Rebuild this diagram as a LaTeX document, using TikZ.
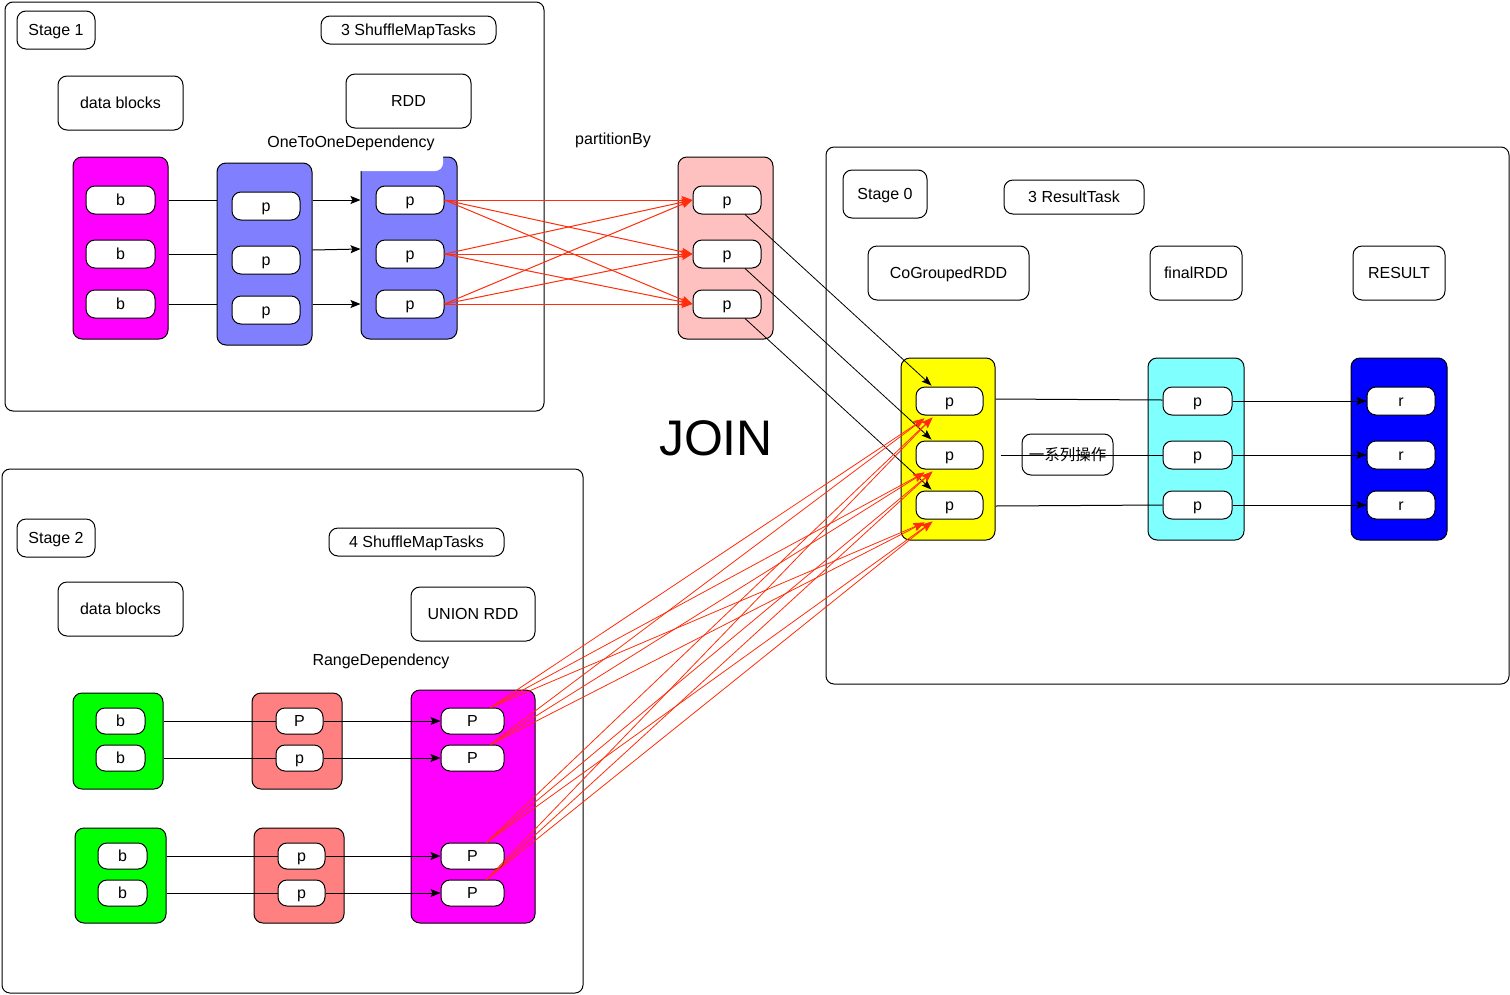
\documentclass[tikz,border=0pt]{standalone}
\usepackage{fontspec}
\setmainfont{Liberation Sans}
\newfontfamily\cjk{Noto Sans CJK SC}
\usetikzlibrary{arrows.meta,calc}
\definecolor{cmag}{RGB}{255,0,255}
\definecolor{cpur}{RGB}{128,128,255}
\definecolor{cpink}{RGB}{255,192,192}
\definecolor{cyel}{RGB}{255,255,0}
\definecolor{ccyan}{RGB}{128,255,255}
\definecolor{cblue}{RGB}{0,0,255}
\definecolor{cgreen}{RGB}{0,255,0}
\definecolor{csalmon}{RGB}{255,128,128}
\definecolor{cred}{RGB}{255,45,10}
\begin{document}
\begin{tikzpicture}[x=1pt,y=-1pt,
  frame/.style={draw, rounded corners=8pt, line width=1pt},
  tx/.style={text height=14.5pt, text depth=3.4pt, font=\fontsize{16}{19}\selectfont},
  lbl/.style={draw, fill=white, rounded corners=9pt, line width=1pt, inner sep=0pt, tx},
  txt/.style={inner sep=0pt, tx},
  col/.style={draw, rounded corners=9pt, line width=1pt, inner sep=0pt},
  pbox/.style={draw, fill=white, rounded corners=9pt, line width=1pt, inner sep=0pt, minimum height=28pt, tx},
  sbox/.style={pbox, minimum height=26pt},
  conn/.style={line width=1pt},
  arr/.style={conn, -{Stealth[length=10pt,width=8pt,inset=2pt]}},
  thinarr/.style={line width=0.8pt, -{Stealth[length=10pt,width=7.5pt,inset=2pt]}},
  redarr/.style={draw=cred, line width=1pt, -{Stealth[length=11pt,width=8pt,inset=2pt]}},
  redarrb/.style={draw=cred, line width=0.8pt, -{Stealth[length=11pt,width=8pt,inset=2pt]}}
]
\useasboundingbox (0,0) rectangle (1510,994);

% ---------- frames ----------
\draw[frame] (5,2) rectangle (544,411);
\draw[frame] (826,147) rectangle (1509,684);
\draw[frame] (2,469) rectangle (583,993);

% ---------- Stage 1 ----------
\node[lbl, minimum width=78pt, minimum height=38pt] (s1label) at (56,30) {Stage 1};
\node[lbl, minimum width=175pt, minimum height=28pt] (s1tasks) at (408.5,30) {3 ShuffleMapTasks};
\node[lbl, minimum width=125pt, minimum height=54pt] (s1data) at (120.5,103) {data blocks};
\node[lbl, minimum width=125pt, minimum height=54pt] (s1rdd) at (408.5,101) {RDD};

\node[col, fill=cmag, minimum width=95pt, minimum height=182pt] (col1) at (120.5,248) {};
\node[col, fill=cpur, minimum width=95pt, minimum height=182pt] (col2) at (264.5,254) {};
\node[col, fill=cpur, minimum width=96pt, minimum height=182pt] (col3) at (409,248) {};
\node[fill=white, rounded corners=8pt, inner sep=0pt, minimum width=113pt, minimum height=40pt] (oneBg) at (386.5,151) {};
\node[txt] (oneLbl) at (351,142) {OneToOneDependency};

\node[pbox, minimum width=69pt] (b1) at (120.5,200) {b};
\node[pbox, minimum width=69pt] (b2) at (120.5,254) {b};
\node[pbox, minimum width=69pt] (b3) at (120.5,304) {b};
\node[pbox, minimum width=68pt] (c2p1) at (266,206) {p};
\node[pbox, minimum width=68pt] (c2p2) at (266,260) {p};
\node[pbox, minimum width=68pt] (c2p3) at (266,310) {p};
\node[pbox, minimum width=68pt] (c3p1) at (410,200) {p};
\node[pbox, minimum width=68pt] (c3p2) at (410,254) {p};
\node[pbox, minimum width=68pt] (c3p3) at (410,304) {p};

% ---------- partitionBy ----------
\node[txt] (partLbl) at (613,139) {partitionBy};
\node[col, fill=cpink, minimum width=95pt, minimum height=182pt] (pkcol) at (725.5,248) {};
\node[pbox, minimum width=68pt] (pk1) at (727,200) {p};
\node[pbox, minimum width=68pt] (pk2) at (727,254) {p};
\node[pbox, minimum width=68pt] (pk3) at (727,304) {p};

\node[inner sep=0pt, font=\fontsize{50}{56}\selectfont] (join) at (716,438) {JOIN};

% ---------- Stage 0 ----------
\node[lbl, minimum width=84pt, minimum height=48pt] (s0label) at (885,194) {Stage 0};
\node[lbl, minimum width=140pt, minimum height=34pt] (s0tasks) at (1074,197) {3 ResultTask};
\node[lbl, minimum width=161pt, minimum height=54pt] (cog) at (948.5,273) {CoGroupedRDD};
\node[lbl, minimum width=92pt, minimum height=54pt] (finrdd) at (1196,273) {finalRDD};
\node[lbl, minimum width=92pt, minimum height=54pt] (result) at (1399,273) {RESULT};

\node[col, fill=cyel, minimum width=94pt, minimum height=182pt] (ycol) at (948,449) {};
\node[col, fill=ccyan, minimum width=96pt, minimum height=182pt] (ccol) at (1196,449) {};
\node[col, fill=cblue, minimum width=96pt, minimum height=182pt] (bcol) at (1399,449) {};
\node[pbox, minimum width=67pt] (yp1) at (949.5,401) {p};
\node[pbox, minimum width=67pt] (yp2) at (949.5,455) {p};
\node[pbox, minimum width=67pt] (yp3) at (949.5,505) {p};
\node[pbox, minimum width=69pt] (cp1) at (1197.5,401) {p};
\node[pbox, minimum width=69pt] (cp2) at (1197.5,455) {p};
\node[pbox, minimum width=69pt] (cp3) at (1197.5,505) {p};
\node[pbox, minimum width=68pt] (r1) at (1401,401) {r};
\node[pbox, minimum width=68pt] (r2) at (1401,455) {r};
\node[pbox, minimum width=68pt] (r3) at (1401,505) {r};
\node[lbl, minimum width=91pt, minimum height=41pt, font=\cjk\fontsize{15.5}{19}\selectfont] (ops) at (1067.5,454.5) {一系列操作};

% ---------- Stage 2 ----------
\node[lbl, minimum width=78pt, minimum height=38pt] (s2label) at (56,538) {Stage 2};
\node[lbl, minimum width=175pt, minimum height=28pt] (s2tasks) at (416.5,542) {4 ShuffleMapTasks};
\node[lbl, minimum width=125pt, minimum height=54pt] (s2data) at (120.5,609) {data blocks};
\node[lbl, minimum width=124pt, minimum height=54pt] (union) at (473,614) {UNION RDD};
\node[txt] (rangeLbl) at (381,660) {RangeDependency};

\node[col, fill=cgreen, minimum width=90pt, minimum height=96pt] (g1col) at (118,741) {};
\node[col, fill=cgreen, minimum width=91pt, minimum height=95pt] (g2col) at (120.5,875.5) {};
\node[col, fill=csalmon, minimum width=90pt, minimum height=96pt] (s1col) at (297,741) {};
\node[col, fill=csalmon, minimum width=90pt, minimum height=95pt] (s2col) at (299,875.5) {};
\node[col, fill=cmag, minimum width=124pt, minimum height=233pt] (mcol) at (473,806.5) {};

\node[sbox, minimum width=49pt] (gb1) at (120.5,721) {b};
\node[sbox, minimum width=49pt] (gb2) at (120.5,758) {b};
\node[sbox, minimum width=49pt] (gb3) at (122.5,856) {b};
\node[sbox, minimum width=49pt] (gb4) at (122.5,893) {b};
\node[sbox, minimum width=47pt] (sb1) at (299.5,721) {P};
\node[sbox, minimum width=47pt] (sb2) at (299.5,758) {p};
\node[sbox, minimum width=47pt] (sb3) at (301.5,856) {p};
\node[sbox, minimum width=47pt] (sb4) at (301.5,893) {p};
\node[sbox, minimum width=63pt] (mp1) at (472.5,721) {P};
\node[sbox, minimum width=63pt] (mp2) at (472.5,758) {P};
\node[sbox, minimum width=63pt] (mp3) at (472.5,856) {P};
\node[sbox, minimum width=63pt] (mp4) at (472.5,893) {P};

% ---------- connectors: Stage 1 ----------
\foreach \i in {1,2,3} {
  \draw[conn] (col1.east |- b\i) -- (col2.west |- b\i);
}
\draw[arr] (col2.east |- c3p1) -- (col3.west |- c3p1);
\draw[arr] ($(col2.east |- c3p2)+(0,-4)$) -- ($(col3.west |- c3p2)+(0,-5)$);
\draw[arr] (col2.east |- c3p3) -- (col3.west |- c3p3);
\foreach \i in {1,2,3} {
  \foreach \j in {1,2,3} {
    \draw[redarr] (c3p\i.east) -- (pk\j.west);
  }
}
\foreach \i in {1,2,3} {
  \draw[thinarr] ($(pk\i.south)+(18,0)$) -- ($(yp\i.north west)+(16,-1)$);
}

% ---------- connectors: Stage 0 ----------
\draw[conn] ($(ycol.east |- yp1)+(0,-2)$) -- ($(cp1.west)+(0,-1)$);
\draw[conn] ($(ycol.east |- yp2)+(5,0)$) -- (cp2.west);
\draw[conn] ($(ycol.east |- yp3)+(0,1)$) -- (cp3.west);
\foreach \i in {1,2,3} {
  \draw[arr] (cp\i.east) -- (r\i.west);
}

% ---------- connectors: Stage 2 ----------
\draw[conn] (g1col.east |- gb1) -- (sb1.west);
\draw[conn] (g1col.east |- gb2) -- (sb2.west);
\draw[conn] (g2col.east |- gb3) -- (sb3.west);
\draw[conn] (g2col.east |- gb4) -- (sb4.west);
\foreach \i in {1,2,3,4} {
  \draw[arr] (sb\i.east) -- (mp\i.west);
}
\foreach \i in {1,2} {
  \foreach \j in {1,2,3} {
    \draw[redarrb] ($(mp\i.north)+(18,0)$) -- ($(yp\j.south west)+(9,3)$);
  }
}
\foreach \i in {3,4} {
  \foreach \j in {1,2,3} {
    \draw[redarrb] ($(mp\i.north)+(14,0)$) -- ($(yp\j.south west)+(17,2)$);
  }
}
\end{tikzpicture}
\end{document}
